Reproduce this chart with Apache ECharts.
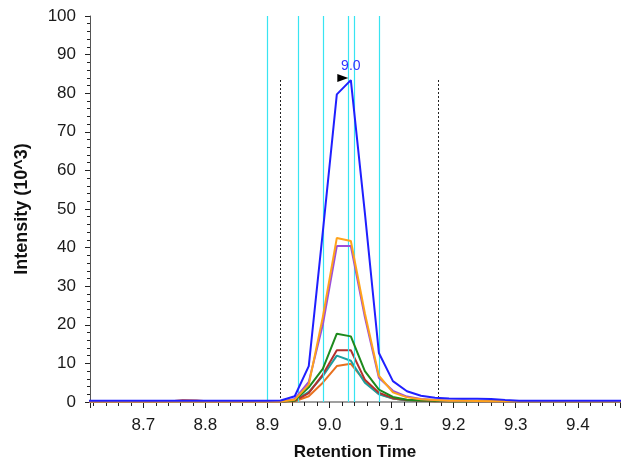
<!DOCTYPE html>
<html>
<head>
<meta charset="utf-8">
<script src="https://cdn.jsdelivr.net/npm/echarts@6/dist/echarts.min.js"></script>
<style>html,body{margin:0;padding:0;background:#fff}#c{width:621px;height:466px}</style>
</head>
<body>
<div id="c"></div>
<script>
// Retention times (shared sampling)
const times = [8.6049, 8.6275, 8.6501, 8.6727, 8.6953, 8.7179, 8.7405, 8.7631, 8.7857, 8.8083,
  8.8309, 8.8535, 8.8761, 8.8987, 8.9213, 8.9439, 8.9665, 8.9891, 9.0117, 9.0343,
  9.0569, 9.0795, 9.1021, 9.1247, 9.1473, 9.1699, 9.1925, 9.2151, 9.2377, 9.2603,
  9.2829, 9.3055, 9.3281, 9.3507, 9.3733, 9.3959, 9.4185, 9.4411, 9.4637, 9.4863];

const blue = [0.3, 0.3, 0.3, 0.3, 0.3, 0.3, 0.3, 0.3, 0.3, 0.3,
  0.3, 0.3, 0.3, 0.3, 0.4, 1.5, 9.3, 44, 79.7, 83.4,
  49, 12.7, 5.4, 2.8, 1.6, 1.1, 0.9, 0.85, 0.85, 0.8,
  0.55, 0.35, 0.3, 0.3, 0.3, 0.3, 0.3, 0.3, 0.3, 0.3];
const orange = [0.1, 0.1, 0.1, 0.1, 0.1, 0.1, 0.1, 0.1, 0.1, 0.1,
  0.1, 0.1, 0.1, 0.1, 0.1, 0.6, 4.5, 22, 42.5, 41.7,
  23, 6.8, 2.5, 1.2, 0.7, 0.5, 0.35, 0.3, 0.25, 0.2,
  0.2, 0.2, 0.2, 0.2, 0.2, 0.2, 0.2, 0.2, 0.2, 0.2];
const purple = [0.1, 0.1, 0.1, 0.1, 0.1, 0.1, 0.1, 0.1, 0.1, 0.1,
  0.1, 0.1, 0.1, 0.1, 0.1, 0.8, 5.2, 20, 40.4, 40.4,
  22, 6.3, 2.9, 1.4, 0.8, 0.5, 0.35, 0.3, 0.2, 0.2,
  0.2, 0.2, 0.2, 0.2, 0.2, 0.2, 0.2, 0.2, 0.2, 0.2];
const green = [0.1, 0.1, 0.1, 0.1, 0.1, 0.1, 0.1, 0.1, 0.1, 0.1,
  0.1, 0.1, 0.1, 0.1, 0.1, 0.4, 3.8, 8.6, 17.7, 17.0,
  8.0, 3.2, 1.3, 0.6, 0.4, 0.3, 0.2, 0.2, 0.2, 0.2,
  0.2, 0.2, 0.2, 0.2, 0.2, 0.2, 0.2, 0.2, 0.2, 0.2];
const red = [0.1, 0.1, 0.1, 0.1, 0.1, 0.1, 0.1, 0.45, 0.4, 0.1,
  0.1, 0.1, 0.1, 0.1, 0.1, 0.3, 2.3, 7.1, 13.4, 13.4,
  5.8, 2.4, 1.0, 0.5, 0.3, 0.2, 0.2, 0.2, 0.2, 0.2,
  0.2, 0.2, 0.2, 0.2, 0.2, 0.2, 0.2, 0.2, 0.2, 0.2];
const teal = [0.1, 0.1, 0.1, 0.1, 0.1, 0.1, 0.1, 0.1, 0.1, 0.1,
  0.1, 0.1, 0.1, 0.1, 0.1, 0.3, 2.6, 6.7, 12.0, 10.7,
  5.0, 2.0, 0.9, 0.4, 0.3, 0.2, 0.2, 0.2, 0.2, 0.2,
  0.2, 0.2, 0.2, 0.2, 0.2, 0.2, 0.2, 0.2, 0.2, 0.2];
const darkOrange = [0.1, 0.1, 0.1, 0.1, 0.1, 0.1, 0.1, 0.1, 0.1, 0.1,
  0.1, 0.1, 0.1, 0.1, 0.1, 0.2, 1.5, 5.0, 9.3, 9.9,
  5.4, 2.1, 0.9, 0.4, 0.3, 0.2, 0.2, 0.2, 0.2, 0.2,
  0.2, 0.2, 0.2, 0.2, 0.2, 0.2, 0.2, 0.2, 0.2, 0.2];

// Vertical markers
const cyanLines = [8.9024, 8.9465, 8.9904, 9.0300, 9.0354, 9.0793];
const boundaryLines = [8.9207, 9.1748];
const boundaryTop = 83.5;
const peakTime = 9.0343;
const peakValue = 83.4;
const peakLabel = '9.0';

const xMin = 8.614, xMax = 9.468;
const yMin = 0, yMax = 100, yStep = 10;

const FONT = '"Liberation Sans", Arial, sans-serif';

function pairs(vals) { return times.map((t, i) => [t, vals[i]]); }

function lineSeries(name, vals, color, z) {
  return {
    name: name, type: 'line', data: pairs(vals), showSymbol: false, symbol: 'none',
    lineStyle: { color: color, width: 2 }, itemStyle: { color: color },
    z: z, silent: true, animation: false, clip: true
  };
}

const series = [
  lineSeries('s7', darkOrange, '#e8701e', 2),
  lineSeries('s6', teal, '#1e9e9e', 3),
  lineSeries('s5', red, '#b3302c', 4),
  lineSeries('s4', green, '#1d8a1d', 5),
  lineSeries('s3', purple, '#9b4ddb', 6),
  lineSeries('s2', orange, '#ffa31a', 7),
  lineSeries('s1', blue, '#1f1fff', 8)
];

series.push({
  type: 'line', data: [], silent: true, animation: false, z: 1,
  markLine: {
    silent: true, symbol: ['none', 'none'], animation: false,
    label: { show: false },
    data: cyanLines.map(v => ({ xAxis: v, lineStyle: { color: '#38e4f2', width: 1.2, type: 'solid' } }))
      .concat(boundaryLines.map(v => [
        { coord: [v, 0], lineStyle: { color: '#222', width: 1, type: [2, 2] } },
        { coord: [v, boundaryTop] }
      ]))
  }
});

series[6].markPoint = {
  silent: true, animation: false,
  data: [
    { coord: [peakTime, peakValue], symbol: 'triangle', symbolSize: [8, 11], symbolRotate: -90,
      symbolOffset: [-8, -2], itemStyle: { color: '#000' }, label: { show: false } },
    { coord: [peakTime, peakValue], symbol: 'circle', symbolSize: 1, itemStyle: { color: 'rgba(0,0,0,0)' },
      label: { show: true, formatter: peakLabel, position: 'top', distance: 6,
        color: '#3333ff', fontSize: 14, fontFamily: FONT } }
  ]
};

const chart = echarts.init(document.getElementById('c'), null, { renderer: 'canvas' });
chart.setOption({
  animation: false,
  backgroundColor: '#fff',
  grid: { left: 90, right: 1, top: 16, bottom: 59, containLabel: false },
  xAxis: {
    type: 'value', min: xMin, max: xMax, splitNumber: 8,
    name: 'Retention Time', nameLocation: 'middle', nameGap: 42,
    nameTextStyle: { fontFamily: FONT, fontSize: 17, fontWeight: 'bold', color: '#111' },
    axisLine: { show: true, onZero: false, lineStyle: { color: '#808080', width: 1.5 } },
    axisTick: { show: true, inside: false, length: 6, lineStyle: { color: '#222' } },
    minorTick: { show: true, splitNumber: 5, length: 4, lineStyle: { color: '#222' } },
    splitLine: { show: false },
    axisLabel: { fontFamily: FONT, fontSize: 17, color: '#1a1a1a', margin: 15,
      showMinLabel: false, showMaxLabel: false,
      formatter: v => v.toFixed(1) }
  },
  yAxis: {
    type: 'value', min: yMin, max: yMax, interval: yStep,
    name: 'Intensity (10^3)', nameLocation: 'middle', nameGap: 59,
    nameTextStyle: { fontFamily: FONT, fontSize: 18, fontWeight: 'bold', color: '#111' },
    axisLine: { show: true, lineStyle: { color: '#555', width: 1 } },
    axisTick: { show: true, inside: false, length: 5, lineStyle: { color: '#222' } },
    minorTick: { show: true, splitNumber: 5, length: 3, lineStyle: { color: '#222' } },
    splitLine: { show: false },
    axisLabel: { fontFamily: FONT, fontSize: 17, color: '#1a1a1a', margin: 14 }
  },
  series: series
});
</script>
</body>
</html>
